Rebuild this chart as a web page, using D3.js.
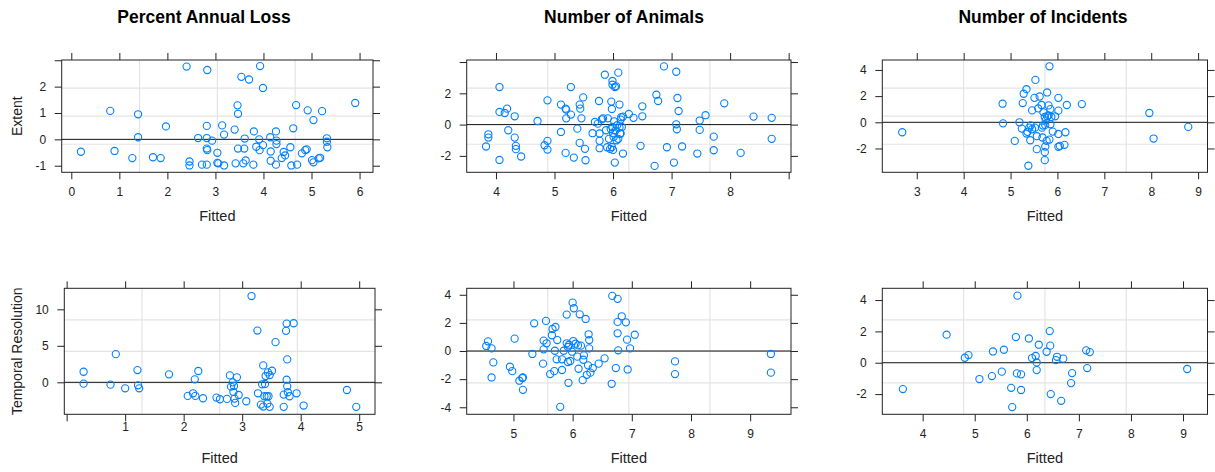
<!DOCTYPE html>
<html>
<head>
<meta charset="utf-8">
<script src="https://cdn.jsdelivr.net/npm/d3@7"></script>
<style>
  body { margin: 0; background: #fff; }
  text { font-family: "Liberation Sans", Arial, sans-serif; fill: #222; }
</style>
</head>
<body>
<div id="chart"></div>
<script>
// column titles and row (response) labels
const titles = ["Percent Annual Loss", "Number of Animals", "Number of Incidents"];
const rowLabels = ["Extent", "Temporal Resolution"];
const xTitle = "Fitted";

// Extent ~ Percent Annual Loss
const lossExtFitted = [0.20,0.81,0.90,1.27,1.39,1.39,1.70,1.86,1.97,2.40,2.46,2.46,2.64,2.72,2.82,2.82,2.83,2.82,2.83,2.82,
  2.93,3.04,3.04,3.06,3.14,3.18,3.18,3.40,3.42,3.46,3.47,3.47,3.54,3.60,3.58,3.61,3.63,3.70,3.79,3.80,
  3.85,3.91,3.92,3.93,3.99,3.99,4.14,4.15,4.15,4.26,4.27,4.27,4.26,4.38,4.42,4.45,4.56,4.58,4.62,4.68,
  4.70,4.80,4.87,4.90,4.92,5.04,5.01,5.04,5.15,5.18,5.22,5.32,5.32,5.33,5.91];
const lossExtResid = [-0.47,1.08,-0.44,-0.71,0.95,0.08,-0.68,-0.71,0.49,2.76,-0.84,-0.99,0.05,-0.96,0.51,0.05,2.63,-0.35,-0.41,-0.96,
  -0.05,-0.51,-0.89,-0.91,0.53,0.18,-0.99,0.37,-0.91,1.29,0.97,-0.35,2.37,-0.35,-0.91,0.03,-0.80,2.27,-0.96,0.30,
  -0.28,0.00,-0.41,2.78,-0.22,1.95,0.08,-0.46,-0.81,0.30,-0.05,-0.18,-0.96,-0.71,-0.48,-0.61,-0.30,-0.99,0.42,1.30,
  -0.96,-0.53,-0.41,-0.38,1.10,0.73,-0.79,-0.87,-0.72,-0.70,1.07,0.04,-0.09,-0.30,1.38];

// Extent ~ Number of Animals
const animExtFitted = [3.83,3.87,3.87,4.06,4.06,4.06,4.15,4.19,4.21,4.32,4.32,4.34,4.34,4.43,4.71,4.83,4.88,4.88,4.88,5.11,
  5.11,5.19,5.20,5.19,5.20,5.28,5.28,5.33,5.39,5.43,5.44,5.43,5.46,5.49,5.52,5.53,5.65,5.69,5.74,5.76,
  5.77,5.77,5.77,5.81,5.83,5.86,5.88,5.90,5.91,5.93,5.95,5.96,5.97,5.98,5.98,5.99,5.99,5.99,6.00,6.00,
  6.01,6.02,6.03,6.03,6.04,6.05,6.06,6.07,6.09,6.09,6.11,6.11,6.12,6.13,6.13,6.14,6.15,6.17,6.17,6.27,
  6.35,6.47,6.50,6.50,6.71,6.74,6.77,6.87,6.92,7.04,7.08,7.08,7.09,7.10,7.12,7.18,7.44,7.48,7.48,7.58,
  7.72,7.72,7.90,8.18,8.40,8.71,8.71];
const animExtResid = [-1.40,-0.62,-0.83,2.40,-2.26,0.81,0.74,1.02,-0.36,0.53,-0.83,-1.36,-1.57,-2.04,0.23,-1.32,1.55,-1.04,-1.60,-0.47,
  1.28,1.02,0.96,-1.81,0.40,0.64,2.40,-2.11,-0.26,1.28,1.02,-1.17,0.40,1.74,-1.55,-2.28,-0.55,0.17,0.06,1.51,
  -0.57,-1.04,-1.51,0.34,0.40,3.19,-0.36,-1.45,0.40,-0.91,-1.55,-0.28,1.47,1.00,-1.43,2.79,2.55,-0.15,-0.53,-1.62,
  -0.79,0.21,-2.43,2.40,-0.38,2.45,-1.00,-0.04,-0.91,3.32,1.28,-0.19,-0.57,0.32,-0.57,0.47,-0.15,0.51,-1.85,0.68,
  0.43,-1.36,1.17,0.53,-2.64,1.91,1.51,3.72,-1.45,-2.43,0.02,3.38,-0.30,1.70,0.87,-1.40,-1.85,0.26,-0.34,0.60,
  -0.77,-1.64,1.36,-1.81,0.51,0.43,-0.91];

// Extent ~ Number of Incidents
const incExtFitted = [2.69,4.83,4.84,5.09,5.19,5.24,5.26,5.28,5.34,5.34,5.36,5.38,5.40,5.42,5.43,5.46,5.46,5.51,5.52,5.53,
  5.56,5.56,5.59,5.62,5.66,5.67,5.68,5.69,5.70,5.73,5.73,5.73,5.74,5.74,5.75,5.77,5.78,5.78,5.81,5.81,
  5.83,5.83,5.85,5.85,5.87,5.90,5.95,6.02,6.02,6.02,6.02,6.05,6.15,6.17,6.20,6.52,7.96,8.05,8.79];
const incExtResid = [-0.76,1.42,-0.08,-1.42,0.00,-0.48,1.47,2.18,2.53,-0.86,-0.73,-3.32,-0.41,-1.37,-0.23,-0.53,0.91,1.87,-0.41,3.24,
  -1.06,-2.05,1.06,1.97,1.32,-0.41,-1.16,-0.25,0.76,-2.28,-2.89,0.41,-0.20,-1.85,0.15,-1.42,2.28,0.46,1.29,0.53,
  4.28,-1.32,1.01,-0.15,0.41,-0.71,0.46,1.87,0.89,-0.89,-1.87,-1.80,-1.72,-0.76,1.32,1.39,0.71,-1.24,-0.35];

// Temporal Resolution ~ Percent Annual Loss
const lossTempFitted = [0.29,0.29,0.75,0.84,1.00,1.21,1.22,1.24,1.75,2.07,2.16,2.19,2.20,2.25,2.33,2.56,2.62,2.74,2.79,2.81,
  2.84,2.85,2.86,2.87,2.88,2.91,2.94,3.07,3.16,3.26,3.27,3.32,3.34,3.36,3.36,3.38,3.39,3.40,3.42,3.43,
  3.44,3.45,3.47,3.47,3.51,3.57,3.71,3.71,3.75,3.76,3.76,3.77,3.77,3.78,3.81,3.88,3.93,4.05,4.79,4.95];
const lossTempResid = [1.45,-0.18,-0.32,3.86,-0.82,1.68,-0.41,-0.82,1.09,-1.86,-1.50,0.41,-1.86,1.55,-2.18,-2.09,-2.32,-2.27,0.95,-0.59,
  0.00,-1.32,-0.50,-2.23,-2.82,0.68,-1.73,-2.59,11.82,7.09,-1.50,-3.05,-0.27,2.32,-3.32,-1.91,-0.23,0.86,-1.91,-2.91,
  1.36,-1.91,1.00,-3.36,1.59,5.50,-3.36,-1.68,7.05,0.36,8.05,3.14,-0.55,-1.36,-1.91,8.09,-1.50,-3.18,-1.05,-3.36];

// Temporal Resolution ~ Number of Animals
const animTempFitted = [4.54,4.57,4.63,4.63,4.66,4.94,4.98,5.02,5.10,5.15,5.16,5.16,5.32,5.35,5.50,5.51,5.51,5.55,5.56,5.62,
  5.65,5.66,5.69,5.70,5.71,5.73,5.74,5.79,5.82,5.82,5.85,5.90,5.90,5.92,5.92,5.93,5.94,5.96,5.99,6.00,
  6.01,6.02,6.05,6.08,6.09,6.10,6.12,6.14,6.17,6.18,6.19,6.22,6.24,6.26,6.27,6.28,6.28,6.30,6.34,6.44,
  6.54,6.66,6.67,6.73,6.76,6.76,6.76,6.77,6.83,6.90,6.92,6.93,6.97,7.05,7.73,7.73,9.35,9.35];
const animTempResid = [0.36,0.69,0.19,-1.88,-0.81,-1.12,-1.43,0.88,-2.11,-1.92,-1.88,-2.76,-0.21,1.97,-0.90,0.74,0.12,2.14,0.55,-1.64,
  1.12,1.57,-1.43,0.02,1.71,-0.59,0.78,-3.97,-1.35,-0.59,0.02,2.59,0.55,0.29,-0.78,-2.26,0.45,-0.71,-0.05,3.44,
  0.71,3.04,0.52,-0.40,0.40,-1.26,2.61,0.38,-2.07,-0.62,-0.31,2.28,-1.69,-1.02,1.19,0.19,0.78,-1.54,-1.21,-0.90,
  -0.52,-2.33,3.92,-1.21,3.71,2.07,1.26,0.05,2.47,2.04,0.81,-1.31,0.19,1.16,-0.74,-1.64,-0.21,-1.54];

// Temporal Resolution ~ Number of Incidents
const incTempFitted = [3.62,4.46,4.81,4.88,5.09,5.33,5.35,5.52,5.56,5.70,5.72,5.79,5.81,5.82,5.89,5.89,6.04,6.10,6.17,6.19,
  6.19,6.23,6.38,6.44,6.45,6.46,6.56,6.58,6.66,6.70,6.87,6.85,7.14,7.21,7.16,9.08];
const incTempResid = [-1.68,1.79,0.32,0.49,-1.04,-0.85,0.72,-0.57,0.83,-1.60,-2.83,1.64,-0.68,4.28,-0.74,-1.74,1.55,0.30,0.43,0.02,
  -0.47,1.15,0.70,2.02,1.09,-2.00,0.17,0.38,-2.43,0.26,-0.66,-1.30,0.79,0.68,-0.34,-0.40];

// axis limits, tick values and which ticks carry a label
const xLimits = [[-0.2, 6.28], [3.5, 9.04], [2.265, 9.2], [-0.04, 5.27], [4.21, 9.69], [3.225, 9.47]];
const yLimits = [[-1.25, 3.01], [-3.05, 4.13], [-3.82, 4.76], [-4.38, 12.88], [-4.5, 4.46], [-3.29, 4.75]];
const xTickValues = [[0,1,2,3,4,5,6], [4,5,6,7,8,9], [3,4,5,6,7,8,9], [0,1,2,3,4,5], [5,6,7,8,9], [4,5,6,7,8,9]];
const xTickLabels = [[0,1,2,3,4,5,6], [4,5,6,7,8], [3,4,5,6,7,8,9], [1,2,3,4,5], [5,6,7,8,9], [4,5,6,7,8,9]];
const yTickValues = [[-1,0,1,2,3], [-2,0,2,4], [-2,0,2,4], [0,5,10], [-4,-2,0,2,4], [-2,0,2,4]];
const yTickLabels = [[-1,0,1,2], [-2,0,2], [-2,0,2,4], [0,5,10], [-4,-2,0,2,4], [-2,0,2,4]];

const series = [
  [lossExtFitted, lossExtResid], [animExtFitted, animExtResid], [incExtFitted, incExtResid],
  [lossTempFitted, lossTempResid], [animTempFitted, animTempResid], [incTempFitted, incTempResid]
];

// panel boxes in pixels
const colBox = [[61.7, 373], [466.7, 791], [882.3, 1207.5]];
const colBoxRow2 = [[64.3, 375], [466.7, 791], [882.3, 1207.5]];
const rowBox = [[60, 172.3], [288.3, 414.3]];
const titleX = [204, 624, 1043];
// gap between bottom ticks and their labels (the lower-left panel sits tighter)
const xLabelPad = [8.5, 8.5, 8.5, 1, 8.5, 8.5];

const width = 1215, height = 472;
const svg = d3.select("#chart").append("svg")
    .attr("width", width)
    .attr("height", height);
svg.append("rect").attr("width", width).attr("height", height).attr("fill", "#fff");

// column titles
titles.forEach((t, i) => {
    svg.append("text")
        .attr("x", titleX[i])
        .attr("y", 23)
        .attr("text-anchor", "middle")
        .attr("font-size", 17.5)
        .attr("font-weight", "bold")
        .style("fill", "#000")
        .text(t);
});

// row labels
rowLabels.forEach((t, r) => {
    let cy = (rowBox[r][0] + rowBox[r][1]) / 2;
    svg.append("text")
        .attr("transform", "translate(22," + cy + ") rotate(-90)")
        .attr("text-anchor", "middle")
        .attr("font-size", 14)
        .text(t);
});

const tick = 7;

series.forEach((s, i) => {
    let r = Math.floor(i / 3), c = i % 3;
    let xb = r === 0 ? colBox[c] : colBoxRow2[c];
    let yb = rowBox[r];

    let x = d3.scaleLinear().domain(xLimits[i]).range(xb);
    let y = d3.scaleLinear().domain(yLimits[i]).range([yb[1], yb[0]]);

    let g = svg.append("g");

    // grid: three lines splitting each range into quarters
    let gx = [1, 2, 3].map(k => xLimits[i][0] + (xLimits[i][1] - xLimits[i][0]) * k / 4);
    let gy = [1, 2, 3].map(k => yLimits[i][0] + (yLimits[i][1] - yLimits[i][0]) * k / 4);
    g.selectAll(".gx").data(gx).enter().append("line")
        .attr("x1", d => x(d)).attr("x2", d => x(d))
        .attr("y1", yb[0]).attr("y2", yb[1])
        .attr("stroke", "#e4e4e4").attr("stroke-width", 1.2);
    g.selectAll(".gy").data(gy).enter().append("line")
        .attr("y1", d => y(d)).attr("y2", d => y(d))
        .attr("x1", xb[0]).attr("x2", xb[1])
        .attr("stroke", "#e4e4e4").attr("stroke-width", 1.2);

    // zero reference
    g.append("line")
        .attr("x1", xb[0]).attr("x2", xb[1])
        .attr("y1", y(0)).attr("y2", y(0))
        .attr("stroke", "#111").attr("stroke-width", 1);

    // residual points
    g.selectAll("circle")
        .data(s[0].map((f, k) => [f, s[1][k]]))
        .enter()
        .append("circle")
        .attr("cx", d => x(d[0]))
        .attr("cy", d => y(d[1]))
        .attr("r", 3.6)
        .attr("fill", "none")
        .attr("stroke", "#0080ff")
        .attr("stroke-width", 1.1);

    // axes on all four sides, labels only left and bottom
    let fmtX = d => xTickLabels[i].includes(d) ? d : "";
    let fmtY = d => yTickLabels[i].includes(d) ? d : "";
    let axes = [
        [d3.axisBottom(x).tickValues(xTickValues[i]).tickFormat(fmtX).tickPadding(xLabelPad[i]), "translate(0," + yb[1] + ")"],
        [d3.axisTop(x).tickValues(xTickValues[i]).tickFormat(""), "translate(0," + yb[0] + ")"],
        [d3.axisLeft(y).tickValues(yTickValues[i]).tickFormat(fmtY).tickPadding(8.5), "translate(" + xb[0] + ",0)"],
        [d3.axisRight(y).tickValues(yTickValues[i]).tickFormat(""), "translate(" + xb[1] + ",0)"]
    ];
    axes.forEach(a => {
        let ax = g.append("g")
            .attr("transform", a[1])
            .call(a[0].tickSize(tick).tickSizeOuter(0));
        ax.select(".domain").remove();
        ax.selectAll("line").attr("stroke", "#222");
        ax.selectAll("text")
            .attr("font-size", 12)
            .attr("font-family", "'Liberation Sans', Arial, sans-serif")
            .style("fill", "#222");
    });

    // panel border
    g.append("rect")
        .attr("x", xb[0]).attr("y", yb[0])
        .attr("width", xb[1] - xb[0]).attr("height", yb[1] - yb[0])
        .attr("fill", "none")
        .attr("stroke", "#222")
        .attr("stroke-width", 1);

    // x axis title
    g.append("text")
        .attr("x", (xb[0] + xb[1]) / 2)
        .attr("y", yb[1] + 48.5)
        .attr("text-anchor", "middle")
        .attr("font-size", 14.5)
        .text(xTitle);
});
</script>
</body>
</html>
